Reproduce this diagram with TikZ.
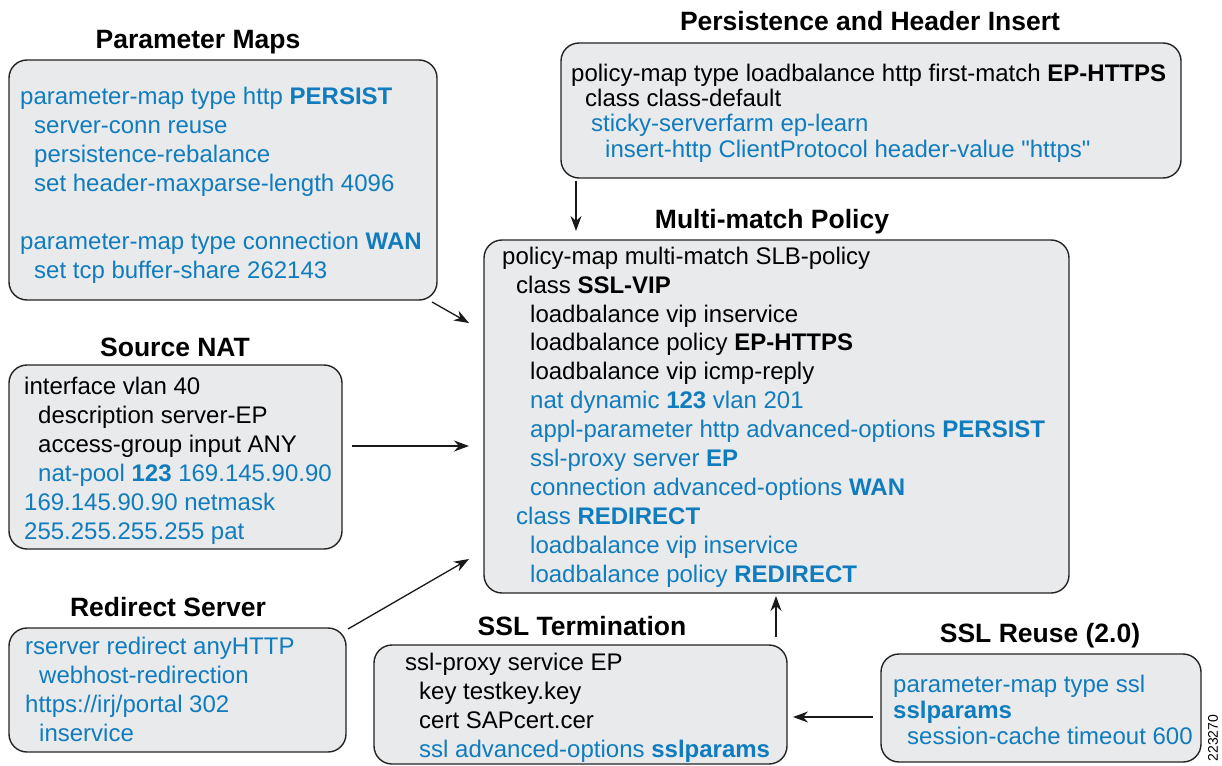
\documentclass[tikz,border=0pt]{standalone}
\usepackage{fontspec}
\setmainfont{Liberation Sans}[Ligatures=TeXOff]
\usetikzlibrary{arrows.meta}
\definecolor{cblue}{RGB}{16,124,190}
\definecolor{boxfill}{RGB}{233,234,236}
\definecolor{boxline}{RGB}{35,35,35}
\newcommand{\fl}{\rule{0pt}{18pt}}
\newcommand{\ind}{\hspace*{14pt}}
\newcommand{\indd}{\hspace*{28pt}}
\begin{document}
\begin{tikzpicture}[x=1pt,y=-1pt,
  box/.style={draw=boxline, fill=boxfill, line width=1.4pt, rounded corners=18pt, inner sep=0pt},
  title/.style={font=\fontsize{26.5}{30}\selectfont\bfseries, anchor=base, inner sep=0pt},
  code/.style={font=\fontsize{24}{29}\selectfont, align=left, anchor=north west, inner sep=0pt},
  arr/.style={line width=1.3pt, draw=black!90, -{Stealth[length=15pt,width=11pt]}}]
\useasboundingbox (0,0) rectangle (1222,765);

% boxes
\node[box, minimum width=428pt, minimum height=240pt] (pm) at (223,180) {};
\node[box, minimum width=620pt, minimum height=135pt] (pers) at (871,110.5) {};
\node[box, minimum width=585pt, minimum height=353pt] (mm) at (776.5,416.5) {};
\node[box, minimum width=333pt, minimum height=184pt] (nat) at (175.5,457) {};
\node[box, minimum width=337pt, minimum height=124pt] (redir) at (177.5,690) {};
\node[box, minimum width=413pt, minimum height=119pt] (sslt) at (580.5,704.5) {};
\node[box, minimum width=320pt, minimum height=108pt] (reuse) at (1041,708) {};

% titles
\node[title] (pmT) at (198,49) {Parameter Maps};
\node[title] (persT) at (870,31) {Persistence and Header Insert};
\node[title] (mmT) at (772,228) {Multi-match Policy};
\node[title] (natT) at (175,356) {Source NAT};
\node[title] (redirT) at (168,616) {Redirect Server};
\node[title] (ssltT) at (582,635) {SSL Termination};
\node[title] (reuseT) at (1040,642) {SSL Reuse (2.0)};

% texts
\node[code, text=cblue] (pmX) at (20,86) {\fl parameter-map type http \textbf{PERSIST}\\
\ind server-conn reuse\\
\ind persistence-rebalance\\
\ind set header-maxparse-length 4096\\[29pt]
parameter-map type connection \textbf{WAN}\\
\ind set tcp buffer-share 262143};

\node[code, font=\fontsize{24}{25.3}\selectfont] (persX) at (571,63) {\fl policy-map type loadbalance http first-match \textbf{EP-HTTPS}\\
\ind class class-default\\
\hspace*{20pt}{\color{cblue}sticky-serverfarm ep-learn}\\
\hspace*{34pt}{\color{cblue}insert-http ClientProtocol header-value \char34 https\char34}};

\node[code, font=\fontsize{24}{28.9}\selectfont] (mmX) at (502,246) {\fl policy-map multi-match SLB-policy\\
\ind class \textbf{SSL-VIP}\\
\indd loadbalance vip inservice\\
\indd loadbalance policy \textbf{EP-HTTPS}\\
\indd loadbalance vip icmp-reply\\
\indd {\color{cblue}nat dynamic \textbf{123} vlan 201}\\
\indd {\color{cblue}appl-parameter http advanced-options \textbf{PERSIST}}\\
\indd {\color{cblue}ssl-proxy server \textbf{EP}}\\
\indd {\color{cblue}connection advanced-options \textbf{WAN}}\\
\ind {\color{cblue}class \textbf{REDIRECT}}\\
\indd {\color{cblue}loadbalance vip inservice}\\
\indd {\color{cblue}loadbalance policy \textbf{REDIRECT}}};

\node[code] (natX) at (24,376) {\fl interface vlan 40\\
\ind description server-EP\\
\ind access-group input ANY\\
\ind {\color{cblue}nat-pool \textbf{123} 169.145.90.90}\\
{\color{cblue}169.145.90.90 netmask}\\
{\color{cblue}255.255.255.255 pat}};

\node[code, text=cblue] (redirX) at (25,636) {\fl rserver redirect anyHTTP\\
\ind webhost-redirection\\
https://irj/portal 302\\
\ind inservice};

\node[code] (ssltX) at (405,652) {\fl ssl-proxy service EP\\
\ind key testkey.key\\
\ind cert SAPcert.cer\\
\ind {\color{cblue}ssl advanced-options \textbf{sslparams}}};

\node[code, text=cblue, font=\fontsize{24}{26}\selectfont] (reuseX) at (893,674) {\fl parameter-map type ssl\\
\textbf{sslparams}\\
\ind session-cache timeout 600};

% figure number
\node[font=\fontsize{14}{14}\selectfont, rotate=90, inner sep=0pt] (fig) at (1213,738) {223270};

% connector end points
\coordinate (c1a) at (576,181);
\coordinate (c1b) at (576,231);
\coordinate (c2a) at (432,302);
\coordinate (c2b) at (469,323);
\coordinate (c3a) at (352,446);
\coordinate (c3b) at (469,446);
\coordinate (c4a) at (348,629);
\coordinate (c4b) at (469,559);
\coordinate (c5a) at (776,637);
\coordinate (c5b) at (776,596);
\coordinate (c6a) at (873,717);
\coordinate (c6b) at (793,717);

\draw[arr] (c1a) -- (c1b);
\draw[arr] (c2a) -- (c2b);
\draw[arr] (c3a) -- (c3b);
\draw[arr] (c4a) -- (c4b);
\draw[arr] (c5a) -- (c5b);
\draw[arr] (c6a) -- (c6b);
\end{tikzpicture}
\end{document}
